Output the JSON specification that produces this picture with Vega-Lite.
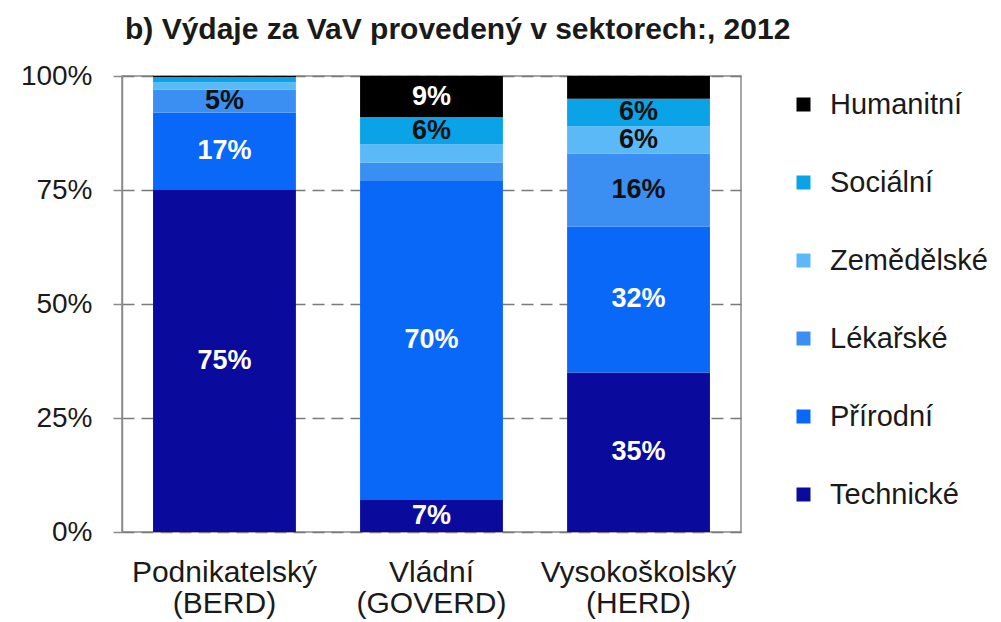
{
  "$schema": "https://vega.github.io/schema/vega-lite/v6.json",
  "autosize": {"type": "none"},
  "padding": {"left": 122, "top": 76, "right": 260, "bottom": 90},
  "width": 619,
  "height": 456,
  "background": "white",
  "title": {
    "text": "b) Výdaje za VaV provedený v sektorech:, 2012",
    "anchor": "start",
    "frame": "group",
    "dx": 3,
    "offset": 17,
    "font": "Liberation Sans",
    "fontSize": 30,
    "fontWeight": "bold",
    "color": "#1a1a1a"
  },
  "config": {
    "view": {"stroke": "#8a8a8a", "strokeWidth": 1.5},
    "font": "Liberation Sans"
  },
  "data": {
    "values": [
      {"sector": "Podnikatelský (BERD)", "cat": "Technické", "ord": 1, "value": 75, "label": "75%"},
      {"sector": "Podnikatelský (BERD)", "cat": "Přírodní", "ord": 2, "value": 17, "label": "17%"},
      {"sector": "Podnikatelský (BERD)", "cat": "Lékařské", "ord": 3, "value": 5, "label": "5%"},
      {"sector": "Podnikatelský (BERD)", "cat": "Zemědělské", "ord": 4, "value": 1.6, "label": ""},
      {"sector": "Podnikatelský (BERD)", "cat": "Sociální", "ord": 5, "value": 1.2, "label": ""},
      {"sector": "Podnikatelský (BERD)", "cat": "Humanitní", "ord": 6, "value": 0.2, "label": ""},
      {"sector": "Vládní (GOVERD)", "cat": "Technické", "ord": 1, "value": 7, "label": "7%"},
      {"sector": "Vládní (GOVERD)", "cat": "Přírodní", "ord": 2, "value": 70, "label": "70%"},
      {"sector": "Vládní (GOVERD)", "cat": "Lékařské", "ord": 3, "value": 4, "label": ""},
      {"sector": "Vládní (GOVERD)", "cat": "Zemědělské", "ord": 4, "value": 4, "label": ""},
      {"sector": "Vládní (GOVERD)", "cat": "Sociální", "ord": 5, "value": 6, "label": "6%"},
      {"sector": "Vládní (GOVERD)", "cat": "Humanitní", "ord": 6, "value": 9, "label": "9%"},
      {"sector": "Vysokoškolský (HERD)", "cat": "Technické", "ord": 1, "value": 35, "label": "35%"},
      {"sector": "Vysokoškolský (HERD)", "cat": "Přírodní", "ord": 2, "value": 32, "label": "32%"},
      {"sector": "Vysokoškolský (HERD)", "cat": "Lékařské", "ord": 3, "value": 16, "label": "16%"},
      {"sector": "Vysokoškolský (HERD)", "cat": "Zemědělské", "ord": 4, "value": 6, "label": "6%"},
      {"sector": "Vysokoškolský (HERD)", "cat": "Sociální", "ord": 5, "value": 6, "label": "6%"},
      {"sector": "Vysokoškolský (HERD)", "cat": "Humanitní", "ord": 6, "value": 5, "label": ""}
    ]
  },
  "encoding": {
    "x": {
      "field": "sector",
      "type": "nominal",
      "sort": null,
      "scale": {"paddingInner": 0.31, "paddingOuter": 0.15},
      "axis": {
        "title": null,
        "labelAngle": 0,
        "ticks": false,
        "domain": false,
        "labelPadding": 25,
        "labelFontSize": 30,
        "labelLimit": 0,
        "labelColor": "#1a1a1a",
        "labelLineHeight": 31,
        "labelExpr": "split(datum.label, ' ')"
      }
    }
  },
  "layer": [
    {
      "mark": {"type": "bar"},
      "encoding": {
        "y": {
          "field": "value",
          "type": "quantitative",
          "stack": "normalize",
          "scale": {"domain": [0, 1], "nice": false},
          "axis": {
            "title": null,
            "values": [0, 0.25, 0.5, 0.75, 1],
            "format": ".0%",
            "labelFontSize": 28,
            "labelColor": "#1a1a1a",
            "labelPadding": 21,
            "tickSize": 9,
            "tickColor": "#8a8a8a",
            "tickWidth": 1.5,
            "domainColor": "#8a8a8a",
            "domainWidth": 1.5,
            "grid": true,
            "gridColor": "#7a7a7a",
            "gridWidth": 1.5,
            "gridDash": [12, 7]
          }
        },
        "color": {
          "field": "cat",
          "type": "nominal",
          "scale": {
            "domain": ["Humanitní", "Sociální", "Zemědělské", "Lékařské", "Přírodní", "Technické"],
            "range": ["#000000", "#0aa3e8", "#5cb9f7", "#3b8ff2", "#0a68f8", "#0a0a9c"]
          },
          "legend": {
            "title": null,
            "orient": "none",
            "legendX": 667,
            "legendY": 14,
            "symbolType": "square",
            "symbolSize": 196,
            "symbolStrokeWidth": 0,
            "labelFontSize": 29,
            "labelColor": "#1a1a1a",
            "labelOffset": 12,
            "labelLimit": 0,
            "rowPadding": 48,
            "padding": 0
          }
        },
        "order": {"field": "ord", "type": "quantitative"}
      }
    },
    {
      "mark": {"type": "text", "fontSize": 27, "fontWeight": "bold", "baseline": "middle"},
      "encoding": {
        "y": {
          "field": "value",
          "type": "quantitative",
          "stack": "normalize",
          "bandPosition": 0.5
        },
        "detail": {"field": "cat"},
        "order": {"field": "ord", "type": "quantitative"},
        "text": {"field": "label"},
        "color": {
          "condition": {"test": "datum.cat === 'Technické' || datum.cat === 'Přírodní' || datum.cat === 'Humanitní'", "value": "#ffffff"},
          "value": "#111111"
        }
      }
    }
  ]
}
